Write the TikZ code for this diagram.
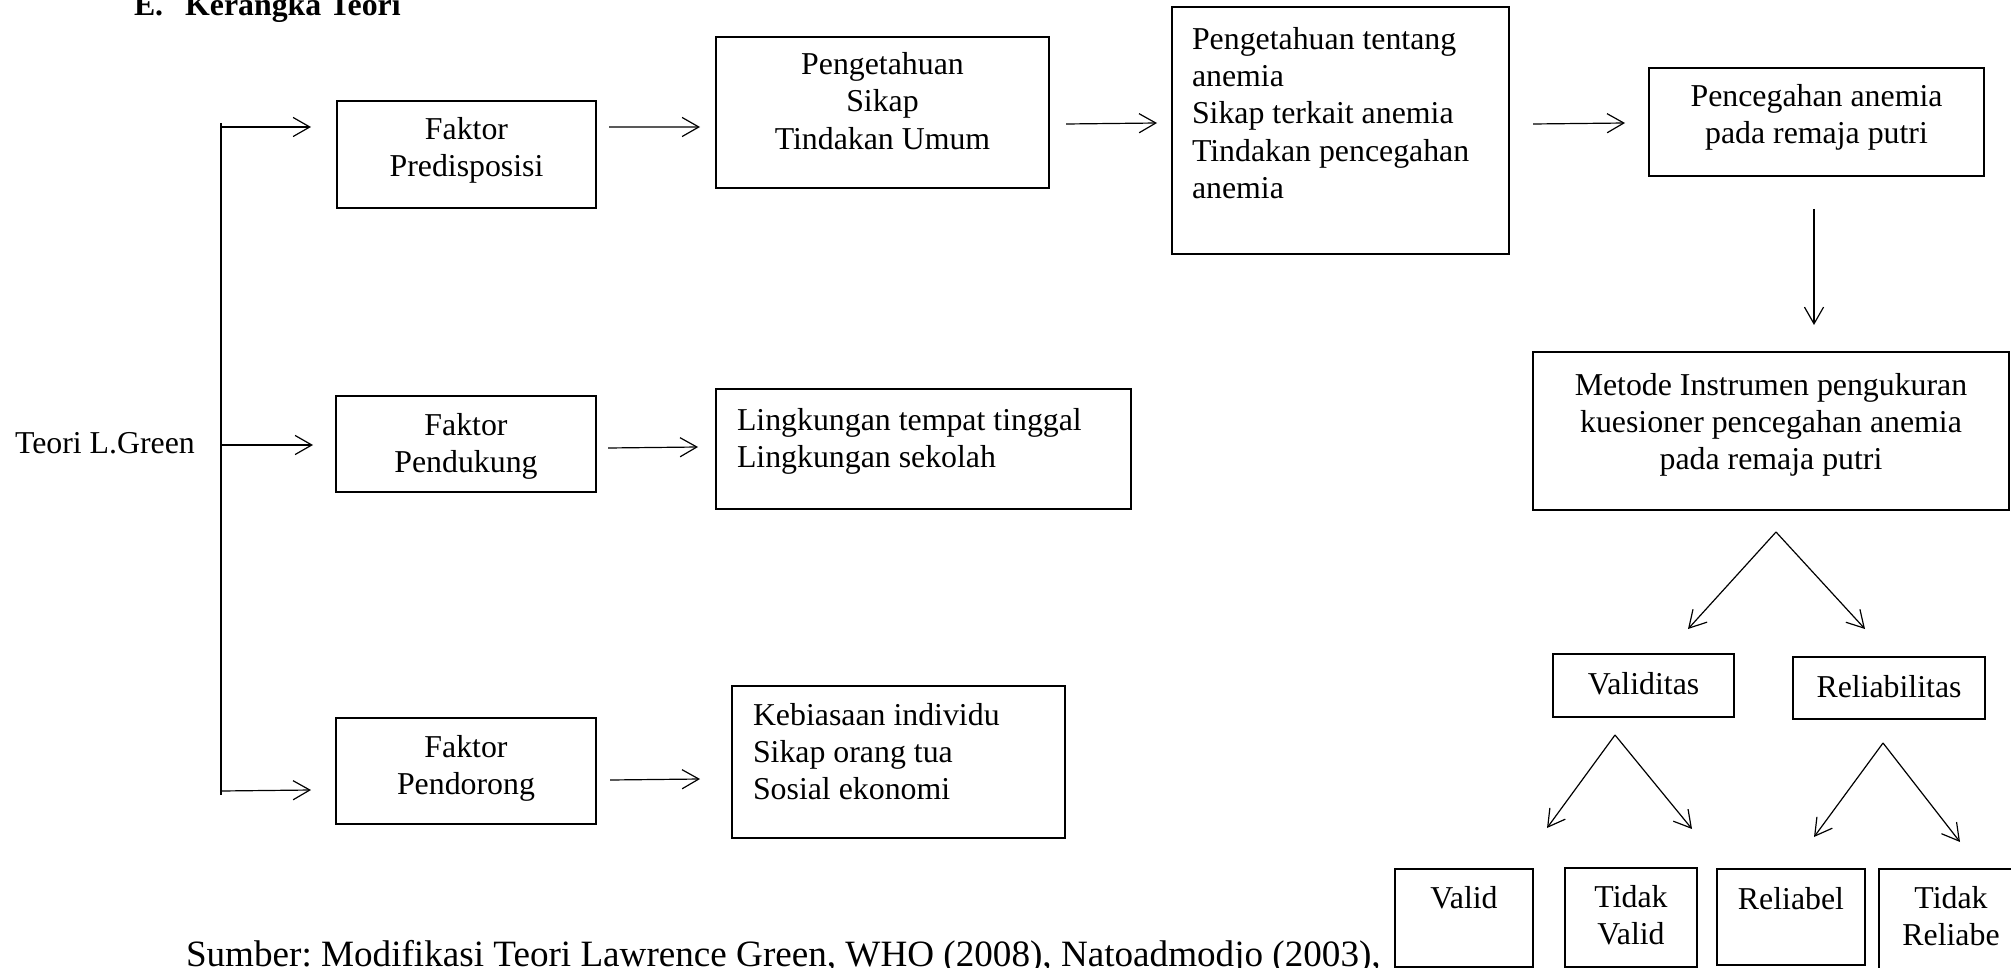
\documentclass[tikz,border=0pt]{standalone}
\usepackage{fontspec}
\setmainfont{Liberation Serif}
\usetikzlibrary{arrows.meta}
\newlength\px
\setlength\px{0.377pt}
% centred text box: width, height, first-baseline offset, text
\newcommand\cbox[4]{\parbox[t][#2\px][t]{#1\px}{\centering\vspace*{\dimexpr #3\px-0.7\baselineskip\relax}\strut #4}}
% left text box: width, height, first-baseline offset, left inset, text
\newcommand\lbox[5]{\parbox[t][#2\px][t]{#1\px}{\raggedright\leftskip=#4\px\vspace*{\dimexpr #3\px-0.7\baselineskip\relax}\strut #5}}
\frenchspacing
\begin{document}
\begin{tikzpicture}[x=0.377pt,y=-0.377pt,
  every node/.style={font=\fontsize{12pt}{13.95pt}\selectfont},
  bx/.style={draw, line width=0.6pt, inner sep=0pt, outer sep=0pt, anchor=north west},
  txt/.style={inner sep=0pt, outer sep=0pt},
  arr/.style={line width=0.45pt, -{Straight Barb[length=6.3pt,width=7.2pt,line width=0.45pt]}},
  ln/.style={line width=0.6pt}]
\useasboundingbox (0,0) rectangle (2011,968);

% title and free texts
\node[txt, anchor=base west, font=\fontsize{12pt}{13.95pt}\selectfont\bfseries] (title) at (134,16) {E.\hspace{22\px}Kerangka Teori};
\node[txt, anchor=base west] (teori) at (15,453) {Teori L.Green};
\node[txt, anchor=base west, font=\fontsize{14pt}{16pt}\selectfont] (sumber) at (186,966) {Sumber: Modifikasi Teori Lawrence Green, WHO (2008), Natoadmodjo (2003),};

% boxes
\node[bx] (pred) at (337,101) {\cbox{259}{107}{39}{Faktor\\Predisposisi}};
\node[bx] (pend) at (336,396) {\cbox{260}{96}{39}{Faktor\\Pendukung}};
\node[bx] (pdor) at (336,718) {\cbox{260}{106}{39}{Faktor\\Pendorong}};
\node[bx] (pk) at (716,37) {\cbox{333}{151}{38}{Pengetahuan\\Sikap\\Tindakan Umum}};
\node[bx] (lk) at (716,389) {\lbox{415}{120}{41}{21}{Lingkungan tempat tinggal\\Lingkungan sekolah}};
\node[bx] (kb) at (732,686) {\lbox{333}{152}{39}{21}{Kebiasaan individu\\Sikap orang tua\\Sosial ekonomi}};
\node[bx] (pa) at (1172,7) {\lbox{337}{247}{43}{20}{Pengetahuan tentang\\anemia\\Sikap terkait anemia\\Tindakan pencegahan\\anemia}};
\node[bx] (pc) at (1649,68) {\cbox{335}{108}{39}{Pencegahan anemia\\pada remaja putri}};
\node[bx] (mi) at (1533,352) {\cbox{476}{158}{43}{Metode Instrumen pengukuran\\kuesioner pencegahan anemia\\pada remaja putri}};
\node[bx] (va) at (1553,654) {\cbox{181}{63}{40}{Validitas}};
\node[bx] (re) at (1793,657) {\cbox{192}{62}{40}{Reliabilitas}};
\node[bx] (v1) at (1395,869) {\cbox{138}{98}{39}{Valid}};
\node[bx] (v2) at (1565,868) {\cbox{132}{99}{39}{Tidak\\Valid}};
\node[bx] (r1) at (1717,869) {\cbox{148}{96}{40}{Reliabel}};
\node[bx] (r2) at (1879,869) {\cbox{144}{110}{39}{Tidak\\Reliabe}};

% spine
\coordinate (st) at (221,123);
\coordinate (sb) at (221,795);
\coordinate (s1) at (221,127);
\coordinate (s2) at (221,445);
\coordinate (s3) at (221,791);
\draw[ln] (st) -- (sb);
\draw[arr] (s1) -- ([shift={(-26,-27.5)}]pred.west);
\draw[arr] (s2) -- ([shift={(-23,1)}]pend.west);
\draw[arr] (s3) -- ([shift={(-25,19)}]pdor.west);

% horizontal flow
\draw[arr] ([shift={(13,-27.5)}]pred.east) -- ([shift={(-16,14.5)}]pk.west);
\draw[arr] ([shift={(12,4)}]pend.east) -- ([shift={(-18,-2)}]lk.west);
\draw[arr] ([shift={(14,9)}]pdor.east) -- ([shift={(-32,17)}]kb.west);
\draw[arr] ([shift={(17,11.5)}]pk.east) -- ([shift={(-15,-7.5)}]pa.west);
\draw[arr] ([shift={(24,-6.5)}]pa.east) -- ([shift={(-24,1)}]pc.west);
\draw[arr] ([shift={(-2.5,33)}]pc.south) -- ([shift={(43,-27)}]mi.north);

% branching
\coordinate (ap1) at ([shift={(5,22)}]mi.south);
\coordinate (ap2) at ([shift={(-28.5,18)}]va.south);
\coordinate (ap3) at ([shift={(-6,24)}]re.south);
\draw[arr] (ap1) -- ([shift={(44.5,-25)}]va.north);
\draw[arr] (ap1) -- ([shift={(-24,-28)}]re.north);
\draw[arr] (ap2) -- ([shift={(83,-41)}]v1.north);
\draw[arr] (ap2) -- ([shift={(61,-39)}]v2.north);
\draw[arr] (ap3) -- ([shift={(23,-32)}]r1.north);
\draw[arr] (ap3) -- ([shift={(9,-27)}]r2.north);
\end{tikzpicture}
\end{document}
